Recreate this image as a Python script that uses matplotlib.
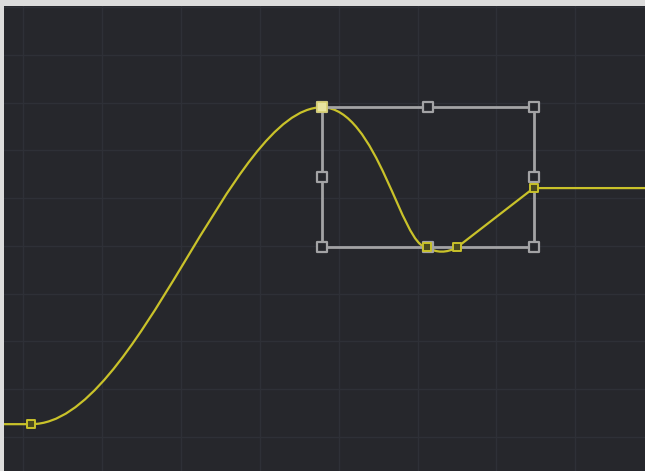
import matplotlib
matplotlib.use("Agg")
import matplotlib.pyplot as plt
from matplotlib.path import Path
from matplotlib.patches import PathPatch, Rectangle

# keyframes (frame, value)
key_x = [1.1, 37.9, 51.2, 55.0, 64.7]
key_y = [2.7, 69.0, 39.7, 39.7, 52.1]

# bezier tangent handles for the curved segments (out handle, in handle)
seg_out = [(14.6, 2.7), (44.9, 69.0), (52.4, 38.5)]
seg_in = [(26.3, 69.0), (48.0, 39.7), (53.7, 38.5)]

# selection box around the selected keys
box_x = [37.9, 64.7]
box_y = [39.7, 69.0]

x_min, x_max = -2.35, 78.8
y_min, y_max = -7.1, 90.2

curve_col = '#c9c22a'
box_col = '#a3a3a5'
bg = '#26272c'

fig = plt.figure(figsize=(6.45, 4.71), dpi=100)
fig.patch.set_facecolor('#dcdcdc')
ax = fig.add_axes([4 / 645, 0, 1 - 4 / 645, 1 - 6 / 471])
ax.set_facecolor(bg)
ax.set_xlim(x_min, x_max)
ax.set_ylim(y_min, y_max)

# grid
for gx in range(0, 80, 10):
    ax.axvline(gx, color='#2e3037', lw=1, zorder=1)
for gy in range(0, 91, 10):
    ax.axhline(gy, color='#2e3037', lw=1, zorder=1)

# build the curve path
verts = [(x_min, key_y[0]), (key_x[0], key_y[0])]
codes = [Path.MOVETO, Path.LINETO]
for i in range(3):
    verts += [seg_out[i], seg_in[i], (key_x[i + 1], key_y[i + 1])]
    codes += [Path.CURVE4] * 3
verts += [(key_x[4], key_y[4]), (x_max, key_y[4])]
codes += [Path.LINETO, Path.LINETO]
ax.add_patch(PathPatch(Path(verts, codes), fill=False, ec=curve_col, lw=1.6, zorder=3))

# selection box
bx0, bx1 = box_x
by0, by1 = box_y
ax.add_patch(Rectangle((bx0, by0), bx1 - bx0, by1 - by0, fill=False, ec=box_col, lw=2, zorder=4))
hx = [bx0, (bx0 + bx1) / 2, bx1, bx0, bx1, bx0, (bx0 + bx1) / 2, bx1]
hy = [by1, by1, by1, (by0 + by1) / 2, (by0 + by1) / 2, by0, by0, by0]
ax.scatter(hx, hy, marker='s', s=60, facecolor=bg, edgecolor=box_col, linewidths=1.6, zorder=5)

# keyframe markers
ax.scatter(key_x, key_y, marker='s', s=40, facecolor='#4a4a20', edgecolor=curve_col, linewidths=1.4, zorder=6)
ax.scatter([key_x[1]], [key_y[1]], marker='s', s=60, facecolor='#e8e4a0', edgecolor='#d8d070', linewidths=1.2, zorder=7)

ax.set_xticks([])
ax.set_yticks([])
for s in ax.spines.values():
    s.set_visible(False)

fig.savefig('out.png', dpi=100, facecolor=fig.get_facecolor())
